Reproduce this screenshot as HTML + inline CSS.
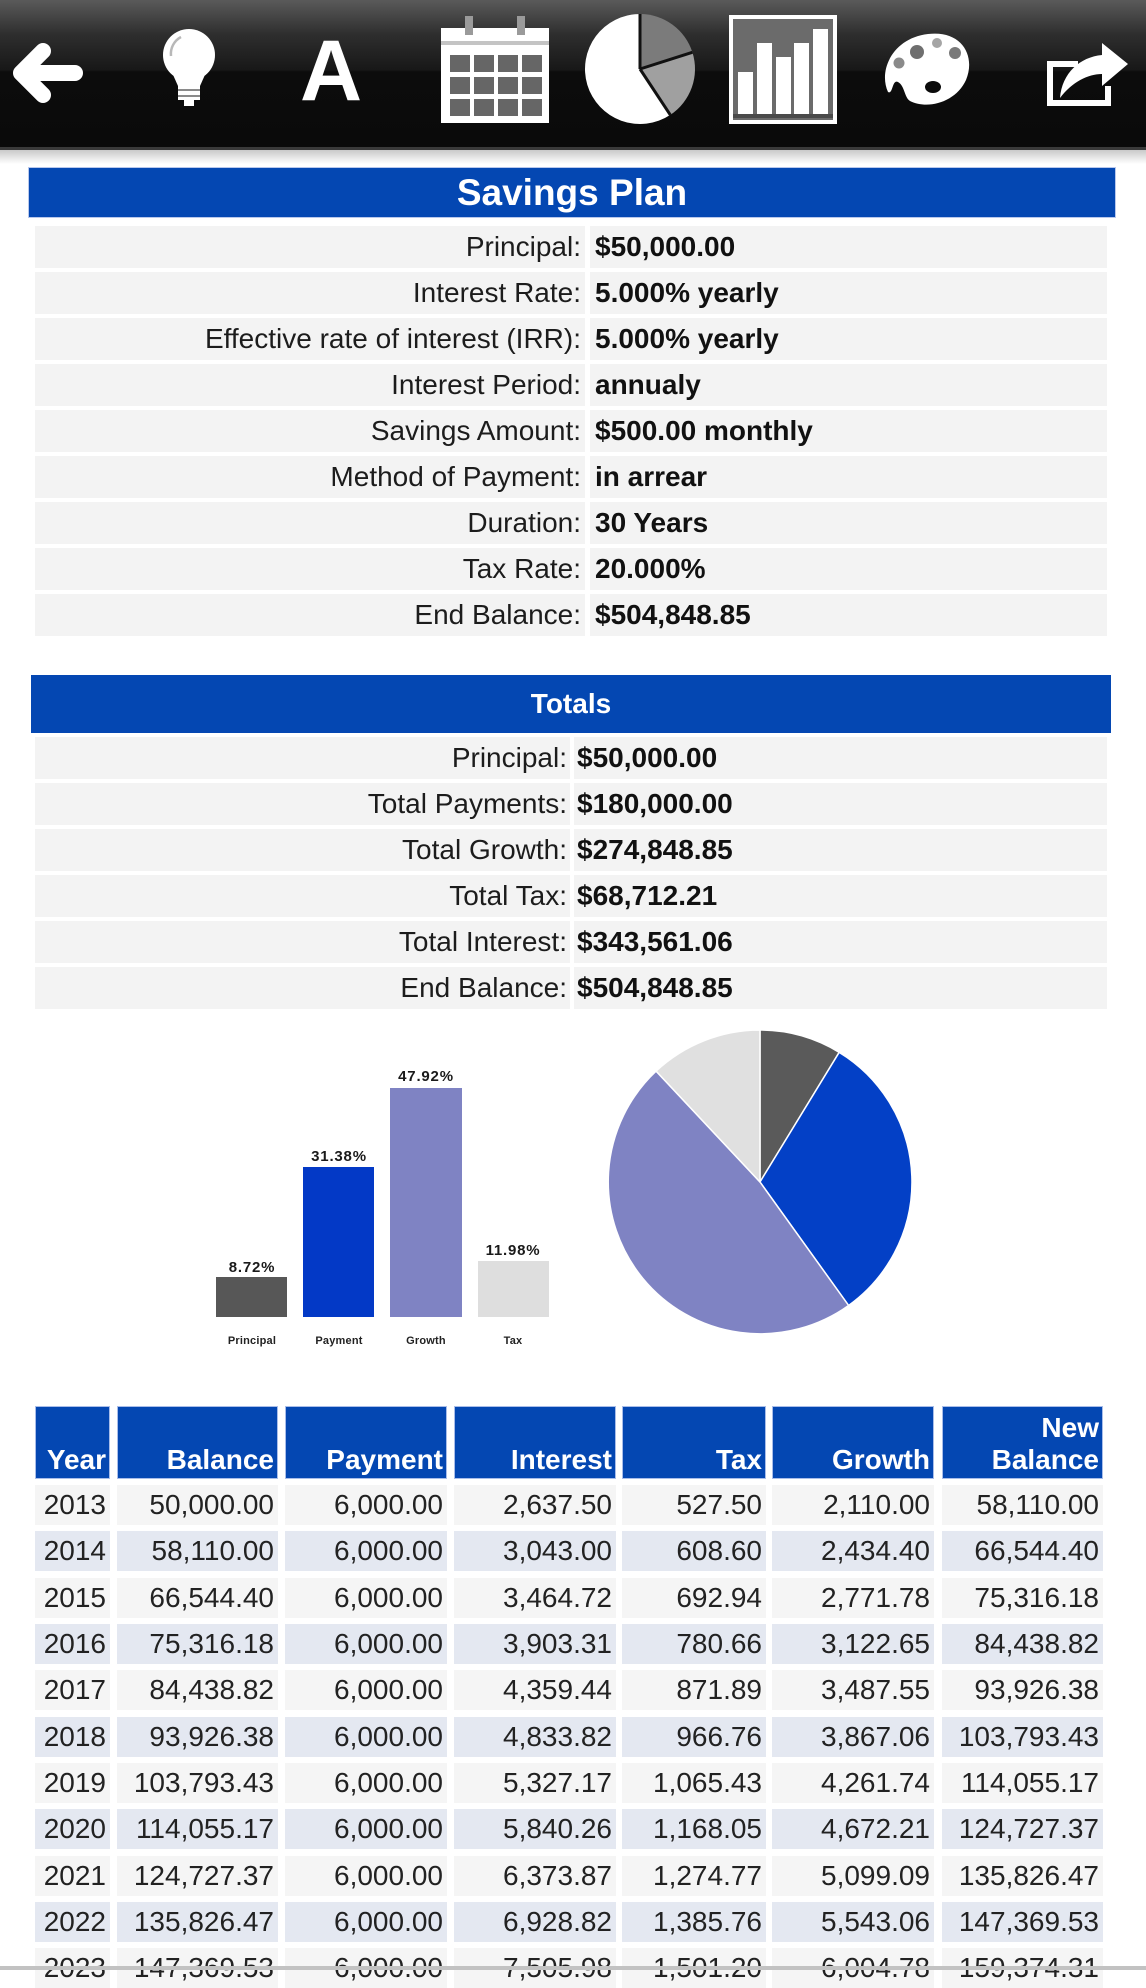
<!DOCTYPE html>
<html>
<head>
<meta charset="utf-8">
<style>
  html,body{margin:0;padding:0;}
  body{width:1146px;height:1970px;overflow:hidden;background:#fff;position:relative;font-family:"Liberation Sans",Arial,sans-serif;}
  .abs{position:absolute;}
  .bar{position:absolute;background:#0447b2;color:#fff;font-weight:bold;text-align:center;box-sizing:border-box;}
  .ir{position:absolute;left:0;width:1146px;height:42px;}
  .ir .l{position:absolute;top:0;height:42px;line-height:42px;background:#f3f3f3;text-align:right;font-size:28px;color:#1c1c1c;box-sizing:border-box;white-space:nowrap;}
  .ir .v{position:absolute;top:0;height:42px;line-height:42px;background:#f3f3f3;text-align:left;font-size:28px;font-weight:bold;color:#111;box-sizing:border-box;white-space:nowrap;}
  .s1 .l{left:35px;width:550px;padding-right:4px;}
  .s1 .v{left:590px;width:517px;padding-left:5px;}
  .s2 .l{left:35px;width:535px;padding-right:3px;}
  .s2 .v{left:574px;width:533px;padding-left:3px;}
  .tr{position:absolute;left:0;width:1146px;height:40px;}
  .tr div{position:absolute;top:0;height:40px;line-height:40px;text-align:right;padding-right:4px;box-sizing:border-box;font-size:28px;color:#222;white-space:nowrap;}
  .tr div:nth-child(1),.th div:nth-child(1){left:35px;width:75px;}
  .tr div:nth-child(2),.th div:nth-child(2){left:117px;width:161px;}
  .tr div:nth-child(3),.th div:nth-child(3){left:285px;width:162px;}
  .tr div:nth-child(4),.th div:nth-child(4){left:454px;width:162px;}
  .tr div:nth-child(5),.th div:nth-child(5){left:622px;width:144px;}
  .tr div:nth-child(6),.th div:nth-child(6){left:772px;width:162px;}
  .tr div:nth-child(7),.th div:nth-child(7){left:942px;width:161px;}
  .o div{background:#f5f5f5;}
  .e div{background:#e4e8f1;}
  .th{position:absolute;left:0;top:1406px;width:1146px;height:73px;}
  .th div{position:absolute;top:0;height:73px;background:#0447b2;border:1px solid #a9bde9;box-sizing:border-box;color:#fff;font-weight:bold;font-size:28px;line-height:32px;text-align:right;padding-right:3px;padding-bottom:2px;display:flex;flex-direction:column;justify-content:flex-end;align-items:flex-end;}
</style>
</head>
<body>

<!-- Toolbar -->
<svg class="abs" style="left:0;top:0" width="1146" height="164" viewBox="0 0 1146 164">
  <defs>
    <linearGradient id="tb" x1="0" y1="0" x2="0" y2="150" gradientUnits="userSpaceOnUse">
      <stop offset="0" stop-color="#5a5a5a"/>
      <stop offset="0.23" stop-color="#2e2e2e"/>
      <stop offset="0.465" stop-color="#181818"/>
      <stop offset="0.48" stop-color="#0c0c0c"/>
      <stop offset="1" stop-color="#0a0a0a"/>
    </linearGradient>
    <linearGradient id="sh" x1="0" y1="150" x2="0" y2="164" gradientUnits="userSpaceOnUse">
      <stop offset="0" stop-color="#c9c9c9"/>
      <stop offset="1" stop-color="#ffffff"/>
    </linearGradient>
  </defs>
  <rect x="0" y="0" width="1146" height="150" fill="url(#tb)"/>
  <rect x="0" y="147" width="1146" height="3" fill="#3a3a3a"/>
  <rect x="0" y="150" width="1146" height="14" fill="url(#sh)"/>

  <!-- back arrow -->
  <path d="M43 51 L21 73 L43 95 M21 73 H75" stroke="#fff" stroke-width="16" stroke-linecap="round" stroke-linejoin="round" fill="none"/>

  <!-- bulb -->
  <circle cx="189" cy="55" r="26" fill="#fff"/>
  <path d="M170 68 L178 86 H200 L208 68 Z" fill="#fff"/>
  <rect x="178" y="85" width="22" height="15" fill="#fff"/>
  <rect x="178" y="89" width="22" height="2" fill="#8a8a8a"/>
  <rect x="178" y="95" width="22" height="2" fill="#8a8a8a"/>
  <rect x="184" y="100" width="10" height="6" fill="#fff"/>
  <path d="M171 56 A19 19 0 0 1 181 37" stroke="#b8b8b8" stroke-width="2.5" fill="none"/>

  <!-- A -->
  <text x="331" y="100" font-family="Liberation Sans, Arial, sans-serif" font-weight="bold" font-size="86" fill="#fff" text-anchor="middle">A</text>

  <!-- calendar -->
  <rect x="441" y="28" width="108" height="95" fill="#fff"/>
  <rect x="441" y="41" width="108" height="4" fill="#c4c4c4"/>
  <rect x="465" y="16" width="8" height="19" fill="#9a9a9a"/>
  <rect x="517" y="16" width="8" height="19" fill="#9a9a9a"/>
  <g fill="#666">
    <rect x="450" y="55" width="20" height="17"/><rect x="474" y="55" width="20" height="17"/><rect x="498" y="55" width="20" height="17"/><rect x="522" y="55" width="20" height="17"/>
    <rect x="450" y="77" width="20" height="17"/><rect x="474" y="77" width="20" height="17"/><rect x="498" y="77" width="20" height="17"/><rect x="522" y="77" width="20" height="17"/>
    <rect x="450" y="99" width="20" height="17"/><rect x="474" y="99" width="20" height="17"/><rect x="498" y="99" width="20" height="17"/><rect x="522" y="99" width="20" height="17"/>
  </g>

  <!-- pie icon -->
  <path d="M640 69 L670.3 114.9 A55 55 0 1 1 640 14 Z" fill="#fff"/>
  <path d="M640 69 L640 14 A55 55 0 0 1 692.4 52.3 Z" fill="#7b7b7b"/>
  <path d="M640 69 L692.4 52.3 A55 55 0 0 1 670.3 114.9 Z" fill="#a0a0a0"/>
  <path d="M640 69 L640 14 M640 69 L692.4 52.3 M640 69 L670.3 114.9" stroke="#111" stroke-width="3"/>

  <!-- bar chart icon -->
  <rect x="729" y="15" width="108" height="109" fill="#fff"/>
  <rect x="733" y="19" width="100" height="101" fill="#6b6b6b"/>
  <g fill="#fff">
    <rect x="738" y="72" width="15" height="42"/>
    <rect x="757" y="43" width="15" height="71"/>
    <rect x="776" y="57" width="15" height="57"/>
    <rect x="794" y="43" width="15" height="71"/>
    <rect x="813" y="29" width="15" height="85"/>
  </g>
  <rect x="733" y="114" width="100" height="4" fill="#4a4a4a"/>

  <!-- palette -->
  <path d="M888 92 C878 70 893 38 928 34 C962 30 976 56 966 80 C956 102 928 110 910 101 C904 97 905 86 898 82 C892 79 893 95 888 92 Z" fill="#fff"/>
  <circle cx="899" cy="63" r="5.5" fill="#8a8a8a"/>
  <circle cx="917" cy="52" r="7" fill="#6f6f6f"/>
  <circle cx="937" cy="43" r="5" fill="#a5a5a5"/>
  <circle cx="955" cy="53" r="6" fill="#7a7a7a"/>
  <ellipse cx="933" cy="87" rx="8" ry="6" fill="#0b0b0b"/>

  <!-- share -->
  <path d="M1078 64 H1050 V103 H1108 V86" stroke="#fff" stroke-width="6" fill="none"/>
  <path d="M1060 98 C1062 73 1080 57 1102 55 L1102 43 L1128 64 L1102 86 L1102 74 C1088 74 1072 82 1060 98 Z" fill="#fff"/>
</svg>

<!-- Savings Plan section -->
<div class="bar" style="left:28px;top:167px;width:1088px;height:51px;line-height:49px;font-size:37px;border:1px solid #b9c8ec;">Savings Plan</div>

<div class="ir s1" style="top:226px"><div class="l">Principal:</div><div class="v">$50,000.00</div></div>
<div class="ir s1" style="top:272px"><div class="l">Interest Rate:</div><div class="v">5.000% yearly</div></div>
<div class="ir s1" style="top:318px"><div class="l">Effective rate of interest (IRR):</div><div class="v">5.000% yearly</div></div>
<div class="ir s1" style="top:364px"><div class="l">Interest Period:</div><div class="v">annualy</div></div>
<div class="ir s1" style="top:410px"><div class="l">Savings Amount:</div><div class="v">$500.00 monthly</div></div>
<div class="ir s1" style="top:456px"><div class="l">Method of Payment:</div><div class="v">in arrear</div></div>
<div class="ir s1" style="top:502px"><div class="l">Duration:</div><div class="v">30 Years</div></div>
<div class="ir s1" style="top:548px"><div class="l">Tax Rate:</div><div class="v">20.000%</div></div>
<div class="ir s1" style="top:594px"><div class="l">End Balance:</div><div class="v">$504,848.85</div></div>

<!-- Totals section -->
<div class="bar" style="left:31px;top:675px;width:1080px;height:58px;line-height:58px;font-size:28px;">Totals</div>

<div class="ir s2" style="top:737px"><div class="l">Principal:</div><div class="v">$50,000.00</div></div>
<div class="ir s2" style="top:783px"><div class="l">Total Payments:</div><div class="v">$180,000.00</div></div>
<div class="ir s2" style="top:829px"><div class="l">Total Growth:</div><div class="v">$274,848.85</div></div>
<div class="ir s2" style="top:875px"><div class="l">Total Tax:</div><div class="v">$68,712.21</div></div>
<div class="ir s2" style="top:921px"><div class="l">Total Interest:</div><div class="v">$343,561.06</div></div>
<div class="ir s2" style="top:967px"><div class="l">End Balance:</div><div class="v">$504,848.85</div></div>

<!-- Charts -->
<svg class="abs" style="left:0;top:1020px" width="1146" height="360" viewBox="0 1020 1146 360">
  <rect x="216" y="1277" width="71" height="40" fill="#575757"/>
  <rect x="303" y="1167" width="71" height="150" fill="#0339c6"/>
  <rect x="390" y="1088" width="72" height="229" fill="#7f83c3"/>
  <rect x="478" y="1261" width="71" height="56" fill="#dedede"/>
  <g font-family="Liberation Sans, Arial, sans-serif" font-weight="bold" font-size="15" fill="#1a1a1a" text-anchor="middle" letter-spacing="0.8">
    <text x="252" y="1272">8.72%</text>
    <text x="339" y="1161">31.38%</text>
    <text x="426" y="1081">47.92%</text>
    <text x="513" y="1255">11.98%</text>
  </g>
  <g font-family="Liberation Sans, Arial, sans-serif" font-weight="bold" font-size="11" fill="#222" text-anchor="middle" letter-spacing="0.2">
    <text x="252" y="1344">Principal</text>
    <text x="339" y="1344">Payment</text>
    <text x="426" y="1344">Growth</text>
    <text x="513" y="1344">Tax</text>
  </g>

  <!-- pie -->
  <path d="M760 1182 L760 1030 A152 152 0 0 1 839.2 1052.3 Z" fill="#5a5a5a" stroke="#fff" stroke-width="1.5"/>
  <path d="M760 1182 L839.2 1052.3 A152 152 0 0 1 848.6 1305.5 Z" fill="#0340c6" stroke="#fff" stroke-width="1.5"/>
  <path d="M760 1182 L848.6 1305.5 A152 152 0 0 1 656.1 1071.1 Z" fill="#7f83c3" stroke="#fff" stroke-width="1.5"/>
  <path d="M760 1182 L656.1 1071.1 A152 152 0 0 1 760 1030 Z" fill="#e0e0e0" stroke="#fff" stroke-width="1.5"/>
</svg>

<!-- Table header -->
<div class="th">
  <div>Year</div>
  <div>Balance</div>
  <div>Payment</div>
  <div>Interest</div>
  <div>Tax</div>
  <div>Growth</div>
  <div><span>New</span><span>Balance</span></div>
</div>

<!-- Table rows -->
<div class="tr o" style="top:1485px"><div>2013</div><div>50,000.00</div><div>6,000.00</div><div>2,637.50</div><div>527.50</div><div>2,110.00</div><div>58,110.00</div></div>
<div class="tr e" style="top:1531px"><div>2014</div><div>58,110.00</div><div>6,000.00</div><div>3,043.00</div><div>608.60</div><div>2,434.40</div><div>66,544.40</div></div>
<div class="tr o" style="top:1578px"><div>2015</div><div>66,544.40</div><div>6,000.00</div><div>3,464.72</div><div>692.94</div><div>2,771.78</div><div>75,316.18</div></div>
<div class="tr e" style="top:1624px"><div>2016</div><div>75,316.18</div><div>6,000.00</div><div>3,903.31</div><div>780.66</div><div>3,122.65</div><div>84,438.82</div></div>
<div class="tr o" style="top:1670px"><div>2017</div><div>84,438.82</div><div>6,000.00</div><div>4,359.44</div><div>871.89</div><div>3,487.55</div><div>93,926.38</div></div>
<div class="tr e" style="top:1717px"><div>2018</div><div>93,926.38</div><div>6,000.00</div><div>4,833.82</div><div>966.76</div><div>3,867.06</div><div>103,793.43</div></div>
<div class="tr o" style="top:1763px"><div>2019</div><div>103,793.43</div><div>6,000.00</div><div>5,327.17</div><div>1,065.43</div><div>4,261.74</div><div>114,055.17</div></div>
<div class="tr e" style="top:1809px"><div>2020</div><div>114,055.17</div><div>6,000.00</div><div>5,840.26</div><div>1,168.05</div><div>4,672.21</div><div>124,727.37</div></div>
<div class="tr o" style="top:1856px"><div>2021</div><div>124,727.37</div><div>6,000.00</div><div>6,373.87</div><div>1,274.77</div><div>5,099.09</div><div>135,826.47</div></div>
<div class="tr e" style="top:1902px"><div>2022</div><div>135,826.47</div><div>6,000.00</div><div>6,928.82</div><div>1,385.76</div><div>5,543.06</div><div>147,369.53</div></div>
<div class="tr o" style="top:1948px"><div>2023</div><div>147,369.53</div><div>6,000.00</div><div>7,505.98</div><div>1,501.20</div><div>6,004.78</div><div>159,374.31</div></div>

<!-- bottom edge -->
<div class="abs" style="left:0;top:1966px;width:1146px;height:4px;background:#c2c2c2;"></div>

</body>
</html>
